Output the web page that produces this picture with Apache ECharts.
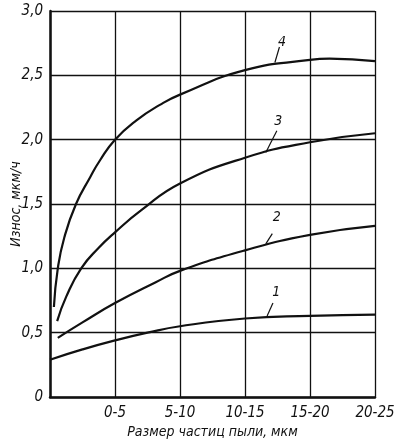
<!DOCTYPE html>
<html>
<head>
<meta charset="utf-8">
<script src="https://cdn.jsdelivr.net/npm/echarts@6/dist/echarts.min.js"></script>
<style>
	html, body { margin: 0; padding: 0; background: #fff; }
	#chart { width: 400px; height: 443px; }
</style>
</head>
<body>
<div id="chart"></div>
<script>
// x position 1..5 = particle size classes
const sizeLabels = ['', '0-5', '5-10', '10-15', '15-20', '20-25']
const yTickLabels = ['0', '0,5', '1,0', '1,5', '2,0', '2,5', '3,0']

const x1 = [0, 0.5, 1, 1.5, 2, 3, 4, 5]
const wear1 = [0.29, 0.37, 0.44, 0.5, 0.55, 0.61, 0.63, 0.64]
const x2 = [0.12, 0.5, 1, 1.62, 2, 3, 4, 5]
const wear2 = [0.46, 0.58, 0.73, 0.89, 0.98, 1.14, 1.26, 1.33]
const x3 = [0.11, 0.25, 0.48, 0.75, 1, 1.4, 2, 3, 4, 5]
const wear3 = [0.59, 0.78, 1.0, 1.16, 1.28, 1.45, 1.66, 1.86, 1.98, 2.05]
const x4 = [0.06, 0.12, 0.22, 0.4, 0.62, 0.77, 1, 1.33, 1.69, 2, 3, 4, 4.3, 5]
const wear4 = [0.7, 1.0, 1.24, 1.5, 1.71, 1.84, 2.0, 2.15, 2.27, 2.35, 2.54, 2.62, 2.63, 2.61]

const curveNames = ['1', '2', '3', '4']
// label anchor and leader line (data coords)
const labelAt = [[3.48, 0.81], [3.49, 1.4], [3.51, 2.14], [3.57, 2.76]]
const leaders = [
	[[3.43, 0.73], [3.34, 0.63]],
	[[3.42, 1.27], [3.32, 1.19]],
	[[3.49, 2.07], [3.32, 1.9]],
	[[3.53, 2.72], [3.46, 2.6]],
]

const font = "'Liberation Sans Narrow', 'DejaVu Sans Condensed', 'Liberation Sans', sans-serif"
const zip = (xs, ys) => xs.map((x, i) => [x, ys[i]])
const curves = [zip(x1, wear1), zip(x2, wear2), zip(x3, wear3), zip(x4, wear4)]

const chart = echarts.init(document.getElementById('chart'))
chart.setOption({
	animation: false,
	backgroundColor: '#fff',
	grid: {
		left: 50,
		right: 25,
		top: 11,
		bottom: 46,
		containLabel: false,
		outerBoundsMode: 'none',
	},
	xAxis: {
		type: 'value',
		min: 0,
		max: 5,
		interval: 1,
		name: 'Размер частиц пыли, мкм',
		nameLocation: 'middle',
		nameGap: 28,
		nameMoveOverlap: false,
		nameTextStyle: { color: '#111', fontSize: 14, fontStyle: 'italic', fontFamily: font },
		axisLine: { lineStyle: { color: '#111', width: 2.5 } },
		axisTick: { show: false },
		axisLabel: {
			color: '#111',
			fontSize: 15,
			fontStyle: 'italic',
			fontFamily: font,
			margin: 9,
			formatter: (v) => sizeLabels[Math.round(v)],
		},
		splitLine: { show: true, lineStyle: { color: '#111', width: 1.3 } },
	},
	yAxis: {
		type: 'value',
		min: 0,
		max: 3,
		interval: 0.5,
		name: 'Износ, мкм/ч',
		nameLocation: 'middle',
		nameGap: 27,
		nameMoveOverlap: false,
		nameTextStyle: { color: '#111', fontSize: 14, fontStyle: 'italic', fontFamily: font },
		axisLine: { show: true, lineStyle: { color: '#111', width: 2.5 } },
		axisTick: { show: false },
		axisLabel: {
			color: '#111',
			fontSize: 15,
			fontStyle: 'italic',
			fontFamily: font,
			margin: 7,
			formatter: (v) => yTickLabels[Math.round(v * 2)],
		},
		splitLine: { show: true, lineStyle: { color: '#111', width: 1.3 } },
	},
	series: curves.map((data, i) => ({
		name: curveNames[i],
		type: 'line',
		data: data,
		smooth: 0.5,
		showSymbol: false,
		lineStyle: { color: '#111', width: 2.2 },
		markLine: {
			silent: true,
			symbol: 'none',
			label: { show: false },
			lineStyle: { color: '#111', width: 1.2, type: 'solid' },
			data: [[{ coord: leaders[i][0] }, { coord: leaders[i][1] }]],
		},
		markPoint: {
			silent: true,
			symbol: 'circle',
			symbolSize: 1,
			itemStyle: { color: 'rgba(0,0,0,0)' },
			label: {
				show: true,
				position: 'inside',
				color: '#111',
				fontSize: 14,
				fontStyle: 'italic',
				fontFamily: font,
				formatter: curveNames[i],
			},
			data: [{ coord: labelAt[i] }],
		},
	})),
})
</script>
</body>
</html>
